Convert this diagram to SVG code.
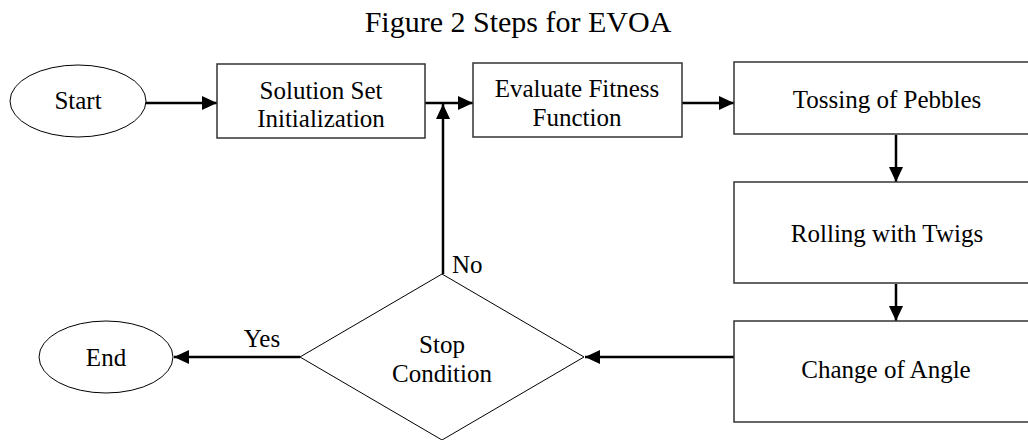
<svg xmlns="http://www.w3.org/2000/svg" width="1028" height="440" viewBox="0 0 1028 440" font-family="'Liberation Serif', 'Times New Roman', serif">
  <style>
    text { font-family: "Liberation Serif", "Times New Roman", serif; fill: #000; }
    .t { font-size: 25px; text-anchor: middle; }
    .title { font-size: 30px; text-anchor: middle; }
    .lbl { font-size: 25px; }
    .box { fill: #fff; stroke: #333; stroke-width: 1.5; }
    .oval { fill: #fff; stroke: #000; stroke-width: 1; }
    .dia { fill: #fff; stroke: #000; stroke-width: 1; }
    .conn { stroke: #000; stroke-width: 2.5; fill: none; marker-end: url(#arr); }
  </style>
  <defs>
    <marker id="arr" markerUnits="userSpaceOnUse" markerWidth="16" markerHeight="14" refX="15" refY="7" orient="auto">
      <path d="M0,0 L15,7 L0,14 Z" fill="#000"/>
    </marker>
  </defs>
  <rect width="1028" height="440" fill="#fff"/>
  <text class="title" x="518" y="32">Figure 2 Steps for EVOA</text>

  <g id="connectors">
    <line class="conn" x1="146" y1="103" x2="217" y2="103"/>
    <line class="conn" x1="425" y1="103" x2="473" y2="103"/>
    <line class="conn" x1="682" y1="103" x2="734" y2="103"/>
    <line class="conn" x1="896" y1="135" x2="896" y2="182"/>
    <line class="conn" x1="896" y1="284" x2="896" y2="321"/>
    <line class="conn" x1="734" y1="357" x2="585" y2="357"/>
    <line class="conn" x1="300" y1="357" x2="174" y2="357"/>
    <line class="conn" x1="443" y1="274" x2="443" y2="104"/>
    <text class="lbl" x="262" y="347" text-anchor="middle">Yes</text>
    <text class="lbl" x="452" y="273">No</text>
  </g>

  <g id="start">
    <ellipse class="oval" cx="78" cy="101" rx="68" ry="36"/>
    <text class="t" x="78" y="109">Start</text>
  </g>
  <g id="init">
    <rect class="box" x="217" y="64" width="208" height="74"/>
    <text class="t" x="321" y="99">Solution Set</text>
    <text class="t" x="321" y="127">Initialization</text>
  </g>
  <g id="evaluate">
    <rect class="box" x="473" y="63" width="209" height="74"/>
    <text class="t" x="577" y="97">Evaluate Fitness</text>
    <text class="t" x="577" y="126">Function</text>
  </g>
  <g id="tossing">
    <rect class="box" x="734" y="62" width="310" height="72"/>
    <text class="t" x="887" y="108">Tossing of Pebbles</text>
  </g>
  <g id="rolling">
    <rect class="box" x="734" y="182" width="310" height="101"/>
    <text class="t" x="887" y="242">Rolling with Twigs</text>
  </g>
  <g id="angle">
    <rect class="box" x="734" y="321" width="310" height="101"/>
    <text class="t" x="886" y="378">Change of Angle</text>
  </g>
  <g id="stop">
    <polygon class="dia" points="442,274 584,357 442,440 300,357"/>
    <text class="t" x="442" y="353">Stop</text>
    <text class="t" x="442" y="382">Condition</text>
  </g>
  <g id="end">
    <ellipse class="oval" cx="106" cy="357" rx="67" ry="36"/>
    <text class="t" x="106" y="366">End</text>
  </g>
</svg>
